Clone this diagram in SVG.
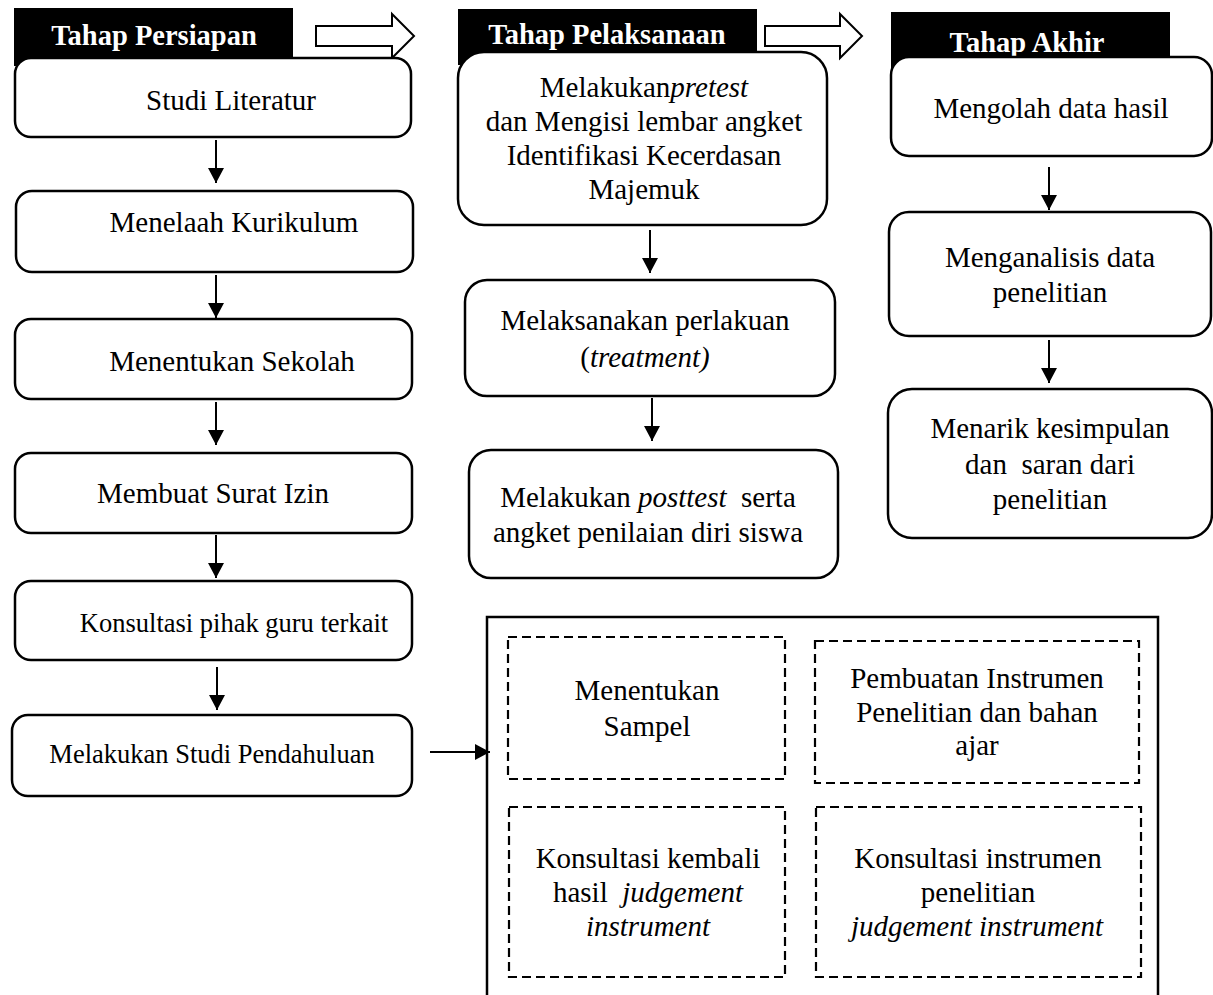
<svg xmlns="http://www.w3.org/2000/svg" width="1213" height="995" viewBox="0 0 1213 995">
<style>
.box{fill:#fff;stroke:#000;stroke-width:2.5}
.dash{fill:none;stroke:#000;stroke-width:2.2;stroke-dasharray:9 5}
.hdr{fill:#000}
.ht{font-family:"Liberation Serif","Times New Roman",serif;font-size:28.5px;font-weight:bold;fill:#fff;text-anchor:middle}
.t{font-family:"Liberation Serif","Times New Roman",serif;font-size:29px;fill:#000;text-anchor:middle}
.s{font-size:26.5px}
.i{font-style:italic}
.con{stroke:#000;stroke-width:2;fill:none}
.blk{fill:#fff;stroke:#000;stroke-width:2}
</style>
<defs>
<marker id="ah" markerUnits="userSpaceOnUse" markerWidth="16" markerHeight="16" refX="15" refY="8" orient="auto">
<path d="M0,0 L15,8 L0,16 Z" fill="#000"/>
</marker>
</defs>
<rect x="0" y="0" width="1213" height="995" fill="#fff"/>

<g id="header-persiapan">
<rect class="hdr" x="14" y="8" width="279" height="58"/>
<text class="ht" x="154" y="45">Tahap Persiapan</text>
</g>
<g id="header-pelaksanaan">
<rect class="hdr" x="458" y="9" width="299" height="56"/>
<text class="ht" x="607" y="44">Tahap Pelaksanaan</text>
</g>
<g id="header-akhir">
<rect class="hdr" x="891" y="12" width="279" height="56"/>
<text class="ht" x="1027" y="52">Tahap Akhir</text>
</g>

<g id="connectors">
<path class="blk" d="M316,26 L392,26 L392,14 L414,36 L392,58 L392,46 L316,46 Z"/>
<path class="blk" d="M765,26 L840,26 L840,14 L862,36 L840,58 L840,46 L765,46 Z"/>
<line class="con" x1="216" y1="140" x2="216" y2="183" marker-end="url(#ah)"/>
<line class="con" x1="216" y1="275" x2="216" y2="318" marker-end="url(#ah)"/>
<line class="con" x1="216" y1="402" x2="216" y2="445" marker-end="url(#ah)"/>
<line class="con" x1="216" y1="535" x2="216" y2="578" marker-end="url(#ah)"/>
<line class="con" x1="217" y1="667" x2="217" y2="710" marker-end="url(#ah)"/>
<line class="con" x1="430" y1="752" x2="490" y2="752" marker-end="url(#ah)"/>
<line class="con" x1="650" y1="230" x2="650" y2="273" marker-end="url(#ah)"/>
<line class="con" x1="652" y1="398" x2="652" y2="441" marker-end="url(#ah)"/>
<line class="con" x1="1049" y1="167" x2="1049" y2="210" marker-end="url(#ah)"/>
<line class="con" x1="1049" y1="340" x2="1049" y2="383" marker-end="url(#ah)"/>
</g>

<g id="n-studi-literatur">
<rect class="box" x="15" y="58" width="396" height="79" rx="16"/>
<text class="t" x="231" y="110">Studi Literatur</text>
</g>
<g id="n-menelaah">
<rect class="box" x="16" y="191" width="397" height="81" rx="16"/>
<text class="t" x="234" y="232">Menelaah Kurikulum</text>
</g>
<g id="n-sekolah">
<rect class="box" x="15" y="319" width="397" height="80" rx="16"/>
<text class="t" x="232" y="371">Menentukan Sekolah</text>
</g>
<g id="n-surat">
<rect class="box" x="15" y="453" width="397" height="80" rx="16"/>
<text class="t" x="213" y="503">Membuat Surat Izin</text>
</g>
<g id="n-konsultasi-guru">
<rect class="box" x="15" y="581" width="397" height="79" rx="16"/>
<text class="t s" x="234" y="632">Konsultasi pihak guru terkait</text>
</g>
<g id="n-studi-pendahuluan">
<rect class="box" x="12" y="715" width="400" height="81" rx="16"/>
<text class="t s" x="212" y="763">Melakukan Studi Pendahuluan</text>
</g>

<g id="n-pretest">
<rect class="box" x="458" y="52" width="369" height="173" rx="26"/>
<text class="t" x="644" y="97">Melakukan<tspan class="i">pretest</tspan></text>
<text class="t" x="644" y="131">dan Mengisi lembar angket</text>
<text class="t" x="644" y="165">Identifikasi Kecerdasan</text>
<text class="t" x="644" y="199">Majemuk</text>
</g>
<g id="n-treatment">
<rect class="box" x="465" y="280" width="370" height="116" rx="22"/>
<text class="t" x="645" y="330">Melaksanakan perlakuan</text>
<text class="t" x="645" y="367">(<tspan class="i">treatment)</tspan></text>
</g>
<g id="n-posttest">
<rect class="box" x="469" y="450" width="369" height="128" rx="22"/>
<text class="t" x="648" y="507">Melakukan <tspan class="i">posttest</tspan>&#160; serta</text>
<text class="t" x="648" y="542">angket penilaian diri siswa</text>
</g>

<g id="n-mengolah">
<rect class="box" x="891" y="57" width="321" height="99" rx="18"/>
<text class="t" x="1051" y="118">Mengolah data hasil</text>
</g>
<g id="n-menganalisis">
<rect class="box" x="889" y="212" width="322" height="124" rx="20"/>
<text class="t" x="1050" y="267">Menganalisis data</text>
<text class="t" x="1050" y="302">penelitian</text>
</g>
<g id="n-kesimpulan">
<rect class="box" x="888" y="389" width="324" height="149" rx="24"/>
<text class="t" x="1050" y="438">Menarik kesimpulan</text>
<text class="t" x="1050" y="474">dan&#160; saran dari</text>
<text class="t" x="1050" y="509">penelitian</text>
</g>

<g id="n-studi-group">
<path d="M487,995 L487,617 L1158,617 L1158,995" fill="none" stroke="#000" stroke-width="2.5"/>
</g>
<g id="n-sampel">
<rect class="dash" x="508" y="637" width="277" height="142"/>
<text class="t" x="647" y="700">Menentukan</text>
<text class="t" x="647" y="736">Sampel</text>
</g>
<g id="n-pembuatan">
<rect class="dash" x="815" y="641" width="324" height="142"/>
<text class="t" x="977" y="688">Pembuatan Instrumen</text>
<text class="t" x="977" y="722">Penelitian dan bahan</text>
<text class="t" x="977" y="755">ajar</text>
</g>
<g id="n-konsultasi-kembali">
<rect class="dash" x="509" y="807" width="276" height="170"/>
<text class="t" x="648" y="868">Konsultasi kembali</text>
<text class="t" x="648" y="902">hasil&#160; <tspan class="i">judgement</tspan></text>
<text class="t i" x="648" y="936">instrument</text>
</g>
<g id="n-konsultasi-instrumen">
<rect class="dash" x="816" y="807" width="325" height="170"/>
<text class="t" x="978" y="868">Konsultasi instrumen</text>
<text class="t" x="978" y="902">penelitian</text>
<text class="t i" x="977" y="936">judgement instrument</text>
</g>
</svg>
